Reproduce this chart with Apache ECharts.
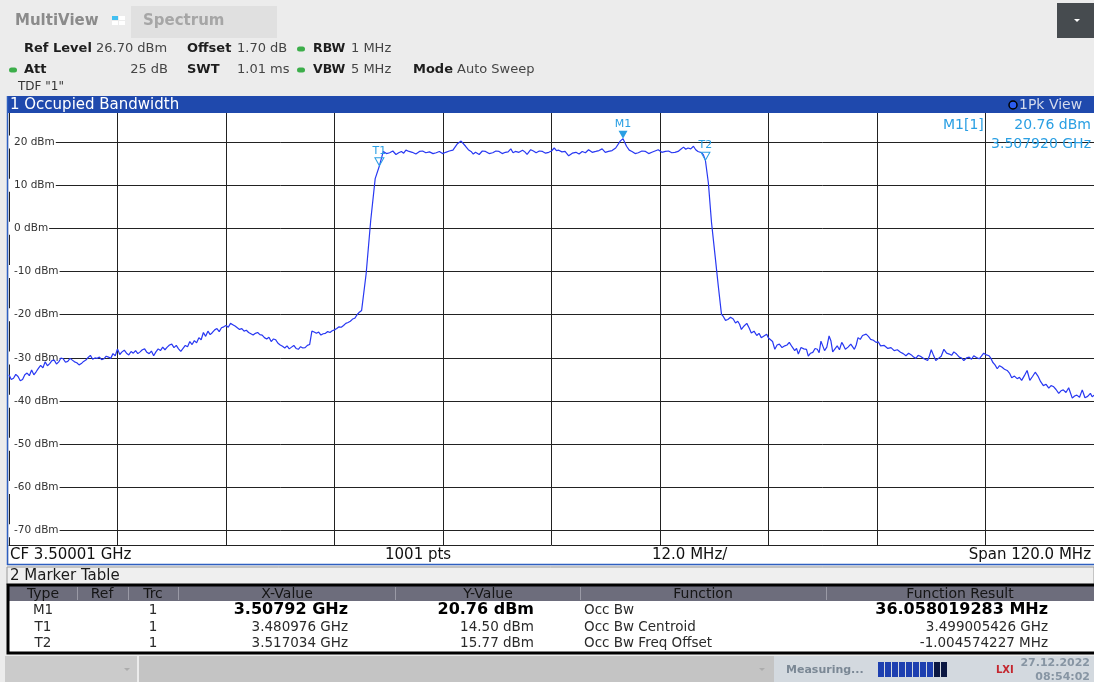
<!DOCTYPE html>
<html>
<head>
<meta charset="utf-8">
<title>1 Occupied Bandwidth</title>
<script src="https://cdn.jsdelivr.net/npm/echarts@6/dist/echarts.min.js"></script>
<style>
  html, body { margin: 0; padding: 0; background: #ececec; }
  #chart { width: 1094px; height: 682px; }
</style>
</head>
<body>
<div id="chart"></div>
<script>
// sweep settings: CF 3.50001 GHz, span 120 MHz -> x values are MHz from the left edge
const START_MHZ = 3440.01;
const SPAN_MHZ = 120;
const DIV_MHZ = 12;
const REF_LEVEL = 26.7;
const BOTTOM_LEVEL = -73.3;
const levelTicks = [20, 10, 0, -10, -20, -30, -40, -50, -60, -70];

// trace 1 (1Pk View): [MHz from start, dBm]
const traceLow = [
  [0, -33.9], [0.25, -35.0], [0.5, -34.7], [0.75, -33.8], [1, -34.3], [1.25, -35.3], [1.5, -35.0], [1.75, -33.9],
  [2, -33.5], [2.25, -34.1], [2.5, -32.8], [2.75, -33.9], [3, -33.2], [3.25, -32.4], [3.5, -31.7], [3.75, -32.3],
  [4, -30.9], [4.25, -31.8], [4.5, -31.3], [4.75, -30.6], [5, -30.5], [5.25, -31.4], [5.5, -30.9], [5.75, -30.0],
  [6, -30.2], [6.25, -31.0], [6.5, -30.8], [6.75, -30.1], [7, -30.5], [7.25, -30.9], [7.5, -31.1], [7.75, -31.6],
  [8, -31.3], [8.25, -30.8], [8.5, -30.5], [8.75, -29.9], [9, -29.4], [9.25, -30.3], [9.5, -30.0], [9.75, -30.1],
  [10, -29.8], [10.25, -30.4], [10.5, -30.2], [10.75, -29.6], [11, -29.8], [11.25, -30.1], [11.5, -29.0], [11.75, -29.5],
  [12, -27.9], [12.25, -29.2], [12.5, -28.6], [12.75, -28.2], [13, -28.9], [13.25, -29.3], [13.5, -28.5], [13.75, -28.9],
  [14, -28.3], [14.25, -29.0], [14.5, -28.6], [14.75, -28.1], [15, -27.9], [15.25, -28.7], [15.5, -29.0], [15.75, -28.4],
  [16, -29.5], [16.25, -28.6], [16.5, -27.9], [16.75, -28.3], [17, -27.5], [17.25, -28.1], [17.5, -27.5], [17.75, -27.0],
  [18, -26.8], [18.25, -27.6], [18.5, -27.1], [18.75, -27.9], [19, -28.5], [19.25, -27.8], [19.5, -27.1], [19.75, -27.4],
  [20, -26.2], [20.25, -26.9], [20.5, -26.0], [20.75, -26.5], [21, -25.3], [21.25, -25.8], [21.5, -24.1], [21.75, -25.0],
  [22, -23.8], [22.25, -24.6], [22.5, -24.1], [22.75, -23.5], [23, -23.2], [23.25, -23.9], [23.5, -23.0], [23.75, -22.8],
  [24, -22.5], [24.25, -22.9], [24.5, -22.0], [24.75, -22.3], [25, -22.6], [25.25, -23.0], [25.5, -23.4], [25.75, -23.2],
  [26, -23.8], [26.25, -23.6], [26.5, -24.1], [26.75, -24.4], [27, -24.7], [27.25, -24.3], [27.5, -24.1], [27.75, -24.6],
  [28, -24.7], [28.25, -25.3], [28.5, -25.6], [28.75, -25.2], [29, -26.2], [29.25, -25.6], [29.5, -25.8], [29.75, -26.6],
  [30, -27.0], [30.25, -27.3], [30.5, -27.7], [30.75, -27.2], [31, -27.9], [31.25, -27.5], [31.5, -27.1], [31.75, -27.8],
  [32, -28.0], [32.25, -27.4], [32.5, -27.7], [32.75, -27.6], [33, -27.1], [33.25, -26.9], [33.5, -23.8], [33.75, -24.0],
  [34, -24.3], [34.25, -24.0], [34.5, -24.7], [34.75, -24.4], [35, -24.3], [35.25, -23.9], [35.5, -24.1], [35.75, -23.7],
  [36, -23.5], [36.25, -23.2], [36.5, -22.8], [36.75, -22.9], [37, -22.5], [37.25, -22.0], [37.5, -21.8], [37.75, -21.5],
  [38, -21.0], [38.25, -20.8], [38.5, -20.0], [38.75, -19.4], [39, -19.0], [39.5, -10.5], [40, 1.7], [40.5, 11.5]
];

const traceBand = [
  [40.97, 14.5], [41.4, 17.8], [41.75, 17.3], [42.1, 17.5], [42.45, 17.9], [42.8, 17.1], [43.1, 17.5], [43.4, 17.8],
  [43.65, 17.4], [43.9, 18.1], [44.25, 17.8], [44.6, 17.6], [45.0, 17.2], [45.4, 17.8], [45.75, 17.9], [46.1, 17.5],
  [46.5, 17.7], [46.9, 17.3], [47.25, 17.5], [47.6, 17.8], [47.95, 17.3], [48.3, 17.6], [48.7, 17.9], [49.1, 18.1],
  [49.6, 19.6], [50.0, 20.2], [50.5, 19.0], [50.8, 18.2], [51.1, 17.8], [51.35, 17.2], [51.6, 17.6], [52.0, 17.1],
  [52.35, 17.9], [52.7, 17.8], [53.1, 17.3], [53.5, 17.5], [53.85, 17.9], [54.2, 17.8], [54.55, 17.3], [54.9, 17.6],
  [55.2, 17.7], [55.5, 18.4], [55.75, 17.5], [56.0, 17.8], [56.4, 17.6], [56.8, 18.1], [57.05, 17.7], [57.3, 17.1],
  [57.7, 18.2], [58.0, 17.9], [58.3, 17.5], [58.65, 17.9], [59.0, 17.8], [59.35, 17.4], [59.7, 17.6], [60.0, 17.9],
  [60.3, 18.6], [60.55, 18.0], [60.8, 18.1], [61.15, 17.7], [61.5, 17.8], [61.9, 16.8], [62.3, 17.4], [62.7, 17.6],
  [63.05, 17.2], [63.4, 17.8], [63.75, 17.5], [64.1, 18.2], [64.5, 17.6], [64.9, 17.8], [65.25, 18.0], [65.6, 18.4],
  [65.95, 17.6], [66.3, 17.8], [66.7, 18.0], [67.1, 18.6], [67.6, 20.2], [67.91, 20.76], [68.3, 19.0], [68.6, 18.1],
  [68.9, 17.8], [69.25, 17.3], [69.6, 17.5], [70.0, 17.9], [70.4, 17.8], [70.75, 17.3], [71.1, 17.6], [71.45, 17.9],
  [71.8, 18.2], [72.2, 17.6], [72.6, 17.8], [72.95, 17.9], [73.3, 17.5], [73.65, 17.6], [74.0, 17.8], [74.3, 18.3],
  [74.6, 18.8], [74.85, 18.3], [75.1, 18.6], [75.4, 18.4], [75.7, 19.0], [75.95, 18.2], [76.2, 17.8], [76.4, 18.2],
  [76.6, 17.5], [76.8, 17.0], [77.02, 15.77]
];

const traceHigh = [
  [77.35, 10.5], [77.7, 1.3], [78.1, -6.5], [78.45, -13.4], [78.8, -19.9], [79.0, -20.4], [79.25, -21.3], [79.5, -21.1],
  [79.8, -20.6], [80.1, -21.0], [80.35, -21.9], [80.6, -21.5], [80.8, -22.2], [81.0, -23.4], [81.3, -22.6], [81.6, -22.0],
  [81.85, -23.0], [82.1, -24.2], [82.4, -23.8], [82.7, -24.8], [82.95, -24.3], [83.2, -25.3], [83.5, -24.9], [83.8, -24.5],
  [84.0, -25.4], [84.2, -25.1], [84.45, -26.2], [84.7, -28.0], [84.95, -27.0], [85.2, -26.8], [85.5, -27.6], [85.8, -27.2],
  [86.05, -27.0], [86.3, -26.4], [86.6, -27.4], [86.9, -28.3], [87.1, -27.8], [87.3, -29.1], [87.6, -27.6], [87.9, -27.9],
  [88.2, -28.0], [88.4, -29.6], [88.65, -28.9], [88.9, -28.7], [89.15, -27.8], [89.4, -28.0], [89.6, -28.8], [89.8, -26.1],
  [90.0, -27.2], [90.2, -28.3], [90.45, -27.5], [90.7, -24.9], [90.9, -26.0], [91.1, -28.6], [91.35, -27.9], [91.6, -27.2],
  [91.85, -28.1], [92.1, -26.4], [92.3, -27.1], [92.5, -28.0], [92.8, -27.5], [93.1, -26.8], [93.3, -27.2], [93.5, -28.0],
  [93.7, -27.0], [93.9, -25.3], [94.15, -25.7], [94.4, -24.8], [94.6, -25.2], [94.8, -24.5], [95.05, -25.0], [95.3, -25.7],
  [95.6, -25.9], [95.9, -26.4], [96.15, -26.3], [96.4, -27.2], [96.8, -27.1], [97.2, -27.8], [97.55, -27.6], [97.9, -28.3],
  [98.25, -28.1], [98.6, -28.7], [98.9, -29.0], [99.2, -29.5], [99.5, -28.9], [99.8, -29.3], [100.05, -29.8], [100.3, -30.1],
  [100.55, -29.4], [100.8, -29.6], [101.2, -30.2], [101.6, -30.6], [101.8, -29.5], [102.0, -28.1], [102.25, -29.4], [102.5, -30.6],
  [102.8, -30.1], [103.1, -29.6], [103.25, -28.8], [103.4, -28.0], [103.7, -28.9], [104.0, -29.1], [104.25, -29.4], [104.5, -28.6],
  [104.8, -29.1], [105.1, -29.8], [105.35, -30.0], [105.6, -30.6], [105.9, -30.0], [106.2, -29.8], [106.45, -30.3], [106.7, -29.5],
  [107.0, -29.9], [107.3, -30.2], [107.55, -29.6], [107.8, -28.9], [108.1, -29.3], [108.4, -29.5], [108.6, -30.1], [108.8, -31.0],
  [109.05, -31.6], [109.3, -32.5], [109.55, -31.8], [109.8, -32.1], [110.1, -32.6], [110.4, -32.9], [110.65, -33.5], [110.9, -34.6],
  [111.2, -34.2], [111.5, -34.8], [111.75, -34.5], [112.0, -35.2], [112.3, -34.1], [112.6, -32.9], [112.75, -34.0], [112.9, -35.2],
  [113.2, -34.3], [113.5, -33.3], [113.8, -34.2], [114.1, -35.5], [114.25, -35.2], [114.4, -36.4], [114.7, -36.1], [115.0, -37.0],
  [115.25, -36.4], [115.5, -36.6], [115.8, -37.3], [116.1, -38.2], [116.35, -37.6], [116.6, -37.4], [116.9, -38.0], [117.2, -36.9],
  [117.4, -38.1], [117.6, -39.3], [117.85, -38.8], [118.1, -38.6], [118.4, -39.1], [118.7, -37.4], [118.85, -38.3], [119.0, -39.2],
  [119.3, -38.9], [119.6, -38.2], [119.8, -39.0], [120, -38.6]
];

const markers = [
  { name: 'M1', ghz: 3.50792, dbm: 20.76, filled: true },
  { name: 'T1', ghz: 3.480976, dbm: 14.50, filled: false },
  { name: 'T2', ghz: 3.517034, dbm: 15.77, filled: false }
];

const tableHead = ['Type', 'Ref', 'Trc', 'X-Value', 'Y-Value', 'Function', 'Function Result'];
const tableRows = [
  ['M1', '', '1', '3.50792 GHz', '20.76 dBm', 'Occ Bw', '36.058019283 MHz'],
  ['T1', '', '1', '3.480976 GHz', '14.50 dBm', 'Occ Bw Centroid', '3.499005426 GHz'],
  ['T2', '', '1', '3.517034 GHz', '15.77 dBm', 'Occ Bw Freq Offset', '-1.004574227 MHz']
];

const FONT = '"DejaVu Sans", sans-serif';
const MARKER_COLOR = '#2a9fe3';
const TRACE_COLOR = '#2838f2';

function text(x, y, str, size, color, opts) {
  opts = opts || {};
  const align = opts.align || 'left';
  return {
    type: 'text', z: 20, silent: true,
    style: {
      x: x, y: y, text: str,
      font: (opts.bold ? 'bold ' : '') + size + 'px ' + FONT,
      fill: color,
      align: align, textAlign: align,
      verticalAlign: 'middle', textVerticalAlign: 'middle'
    }
  };
}

function box(x, y, w, h, fill, style, r) {
  return {
    type: 'rect', z: 5, silent: true,
    shape: { x: x, y: y, width: w, height: h, r: r || 0 },
    style: Object.assign({ fill: fill }, style || {})
  };
}

function line(x1, y1, x2, y2, color, width) {
  return {
    type: 'line', z: 6, silent: true,
    shape: { x1: x1, y1: y1, x2: x2, y2: y2 },
    style: { stroke: color, lineWidth: width || 1 }
  };
}

function dot(x, y) {
  return box(x - 4, y - 2.5, 8, 5, '#3cae4a', null, 2.5);
}

function buildGraphics() {
  const g = [];
  const dark = '#1e1e1e';
  const value = '#454545';

  // top bar
  g.push(text(15, 21, 'MultiView', 15, '#8b8b8b', { bold: true }));
  g.push(box(112, 16, 6, 4, '#43bff0'));
  g.push(box(119, 16, 6, 4, '#ffffff'));
  g.push(box(112, 21, 6, 4, '#ffffff'));
  g.push(box(119, 21, 6, 4, '#ffffff'));
  g.push(box(131, 6, 146, 32, '#e0e0e0'));
  g.push(text(143, 21, 'Spectrum', 15, '#a6a6a6', { bold: true }));
  g.push(box(1057, 3, 37, 35, '#464b4f'));
  g.push({ type: 'polygon', z: 20, silent: true, shape: { points: [[1074, 19], [1080, 19], [1077, 22]] }, style: { fill: '#ffffff' } });

  // settings
  g.push(text(24, 49, 'Ref Level', 13, dark, { bold: true }));
  g.push(text(96, 49, '26.70 dBm', 13, value));
  g.push(text(187, 49, 'Offset', 13, dark, { bold: true }));
  g.push(text(237, 49, '1.70 dB', 13, value));
  g.push(dot(301, 49));
  g.push(text(313, 49, 'RBW', 12.5, dark, { bold: true }));
  g.push(text(351, 49, '1 MHz', 13, value));
  g.push(dot(13, 70));
  g.push(text(24, 70, 'Att', 13, dark, { bold: true }));
  g.push(text(168, 70, '25 dB', 13, value, { align: 'right' }));
  g.push(text(187, 70, 'SWT', 13, dark, { bold: true }));
  g.push(text(237, 70, '1.01 ms', 13, value));
  g.push(dot(301, 70));
  g.push(text(313, 70, 'VBW', 12.5, dark, { bold: true }));
  g.push(text(351, 70, '5 MHz', 13, value));
  g.push(text(413, 70, 'Mode', 13, dark, { bold: true }));
  g.push(text(457, 70, 'Auto Sweep', 13, value));
  g.push(text(18, 87, 'TDF "1"', 12, '#333'));

  // window 1 title
  g.push(box(7, 96, 1087, 17, '#1f49ad'));
  g.push(text(10, 105, '1 Occupied Bandwidth', 15, '#ffffff'));
  g.push({ type: 'circle', z: 20, silent: true, shape: { cx: 1013, cy: 105, r: 4 }, style: { fill: '#2c5cf0', stroke: '#000', lineWidth: 1.5 } });
  g.push(text(1019, 105, '1Pk View', 14, '#d4daec'));

  // marker readout
  g.push(text(943, 125, 'M1[1]', 14, MARKER_COLOR));
  g.push(text(1091, 125, '20.76 dBm', 14, MARKER_COLOR, { align: 'right' }));
  g.push(text(1091, 144, '3.507920 GHz', 14, MARKER_COLOR, { align: 'right' }));

  // footer of window 1
  g.push(box(9, 546, 1085, 18, '#ffffff'));
  g.push(text(10, 555, 'CF 3.50001 GHz', 15, '#111'));
  g.push(text(385, 555, '1001 pts', 15, '#111'));
  g.push(text(652, 555, '12.0 MHz/', 15, '#111'));
  g.push(text(1091, 555, 'Span 120.0 MHz', 15, '#111', { align: 'right' }));
  g.push(line(7.5, 96, 7.5, 565, '#2f5fc0', 1.5));
  g.push(line(7, 564.5, 1094, 564.5, '#2f5fc0', 1.5));

  // window 2: marker table
  g.push(box(7, 567, 1087, 18, '#efefef', { stroke: '#9a9a9a', lineWidth: 1 }));
  g.push(text(10, 576, '2 Marker Table', 15, '#1a1a1a'));
  g.push(box(9, 585, 1087, 67, '#ffffff'));
  g.push(box(9, 585, 1087, 16, '#6d6d7c'));
  const seps = [77, 128, 178, 395, 580, 826];
  seps.forEach(function (x) { g.push(line(x + 0.5, 587, x + 0.5, 600, '#9a9aa6', 1)); });
  const headX = [43, 102, 153, 287, 488, 703, 960];
  tableHead.forEach(function (h, i) { g.push(text(headX[i], 594, h, 14, '#151515', { align: 'center' })); });
  const cols = [
    { x: 43, align: 'center' }, { x: 102, align: 'center' }, { x: 153, align: 'center' },
    { x: 348, align: 'right', boldFirst: true }, { x: 534, align: 'right', boldFirst: true },
    { x: 584, align: 'left' }, { x: 1048, align: 'right', boldFirst: true }
  ];
  const rowY = [610, 627, 643];
  tableRows.forEach(function (row, r) {
    row.forEach(function (cell, c) {
      if (!cell) return;
      const bold = r === 0 && cols[c].boldFirst;
      g.push(text(cols[c].x, rowY[r], cell, bold ? 16 : 13.5, bold ? '#000' : '#2a2a2a', { bold: bold, align: cols[c].align }));
    });
  });
  g.push({ type: 'rect', z: 8, silent: true, shape: { x: 8, y: 585, width: 1090, height: 68 }, style: { fill: 'none', stroke: '#000', lineWidth: 3 } });

  // status bar
  g.push(box(5, 656, 132, 26, '#cbcbcb'));
  g.push(box(139, 656, 635, 26, '#c4c4c4'));
  g.push(box(774, 656, 320, 26, '#d3d9df'));
  g.push({ type: 'polygon', z: 20, silent: true, shape: { points: [[124, 668], [130, 668], [127, 671]] }, style: { fill: '#acacac' } });
  g.push({ type: 'polygon', z: 20, silent: true, shape: { points: [[759, 668], [765, 668], [762, 671]] }, style: { fill: '#acacac' } });
  g.push(text(786, 670, 'Measuring...', 11, '#7b8895', { bold: true }));
  for (let i = 0; i < 10; i++) {
    g.push(box(878 + i * 7, 662, 6, 15, i < 8 ? '#1d3fb0' : '#0b1742'));
  }
  g.push(text(996, 670, 'LXI', 10, '#c4262e', { bold: true }));
  g.push(text(1090, 663, '27.12.2022', 11, '#8795a3', { bold: true, align: 'right' }));
  g.push(text(1090, 677, '08:54:02', 11, '#8795a3', { bold: true, align: 'right' }));
  return g;
}

const chart = echarts.init(document.getElementById('chart'), null, { renderer: 'canvas' });

const option = {
  animation: false,
  backgroundColor: '#ececec',
  grid: {
    left: 9, top: 113, right: -3, bottom: 137,
    show: true, backgroundColor: '#ffffff', borderWidth: 0
  },
  xAxis: {
    type: 'value',
    min: 0, max: SPAN_MHZ, interval: DIV_MHZ,
    axisLabel: { show: false },
    axisTick: { show: false },
    axisLine: { show: true, onZero: false, lineStyle: { color: '#222', width: 1 } },
    splitLine: { show: true, lineStyle: { color: '#222', width: 1 } }
  },
  yAxis: {
    type: 'value',
    min: BOTTOM_LEVEL, max: REF_LEVEL,
    axisLine: { show: false },
    axisTick: { show: false, customValues: levelTicks },
    axisLabel: {
      customValues: levelTicks,
      inside: true,
      margin: 0,
      formatter: function (v) { return v + ' dBm'; },
      fontFamily: FONT, fontSize: 10.5, color: '#333',
      backgroundColor: '#ffffff', padding: [1, 1, 1, 5]
    },
    splitLine: { show: true, lineStyle: { color: '#222', width: 1 } },
    z: 3
  },
  series: [{
    name: 'Trc 1',
    type: 'line',
    data: traceLow.concat(traceBand, traceHigh),
    symbol: 'none',
    z: 4,
    lineStyle: { color: TRACE_COLOR, width: 1.2 },
    markPoint: {
      symbol: 'triangle',
      symbolRotate: 180,
      symbolSize: [9, 8],
      symbolOffset: [0, -4],
      data: markers.map(function (m) {
        return {
          name: m.name,
          coord: [m.ghz * 1000 - START_MHZ, m.dbm],
          itemStyle: m.filled
            ? { color: MARKER_COLOR }
            : { color: 'rgba(255,255,255,0)', borderColor: MARKER_COLOR, borderWidth: 1 },
          label: {
            show: true, position: 'top', distance: 1,
            formatter: m.name, color: MARKER_COLOR,
            fontFamily: FONT, fontSize: 11
          }
        };
      })
    }
  }],
  graphic: { elements: buildGraphics() }
};

chart.setOption(option);
</script>
</body>
</html>
